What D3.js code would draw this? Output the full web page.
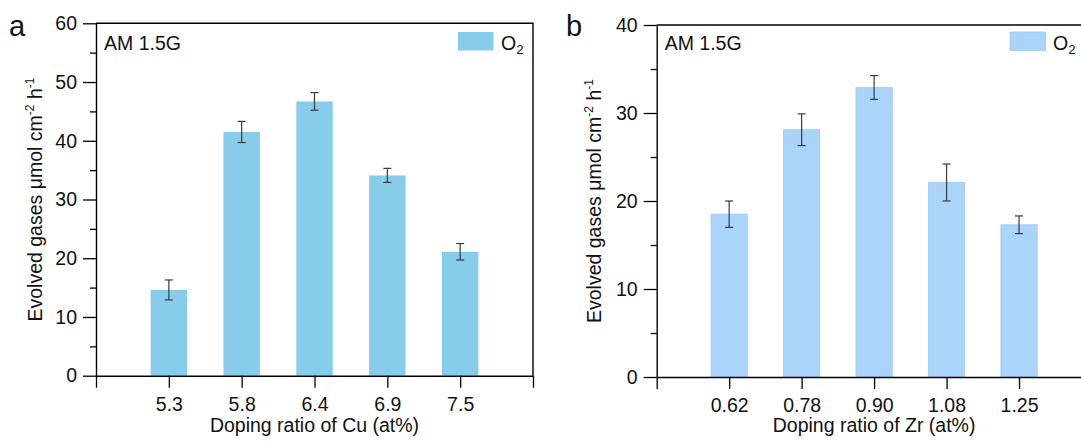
<!DOCTYPE html>
<html><head><meta charset="utf-8">
<script src="https://cdn.jsdelivr.net/npm/d3@7"></script>
<style>
html,body{margin:0;padding:0;background:#fff;}
svg{display:block;font-family:"Liberation Sans",Arial,Helvetica,sans-serif;}
</style></head>
<body>
<svg id="chart" width="1081" height="441"></svg>
<script>
// ---- data ----
const cuLabels = ["5.3", "5.8", "6.4", "6.9", "7.5"];
const cuValues = [14.6, 41.5, 46.7, 34.1, 21.1];
const cuErrors = [1.7, 1.8, 1.5, 1.2, 1.4];
const cuYTicks = [0, 10, 20, 30, 40, 50, 60];

const zrLabels = ["0.62", "0.78", "0.90", "1.08", "1.25"];
const zrValues = [18.5, 28.1, 32.9, 22.1, 17.3];
const zrErrors = [1.5, 1.8, 1.35, 2.1, 1.0];
const zrYTicks = [0, 10, 20, 30, 40];

const panels = [
  {letter: "a", labels: cuLabels, values: cuValues, errors: cuErrors, yTicks: cuYTicks,
   yMax: 60, left: 96, right: 533, top: 23.3, bottom: 375.7, color: "#87cdeb", stroke: "none",
   xTitle: "Doping ratio of Cu (at%)", letterX: 9, titleX: 42, legX: 458},
  {letter: "b", labels: zrLabels, values: zrValues, errors: zrErrors, yTicks: zrYTicks,
   yMax: 40, left: 656.7, right: 1091.5, top: 25, bottom: 377, color: "#aad4fa", stroke: "#9ccaf3",
   xTitle: "Doping ratio of Zr (at%)", letterX: 566, titleX: 601, legX: 1010}
];

const svg = d3.select("#chart");
const FS = 19.5;

panels.forEach(p => {
  const g = svg.append("g");
  const domain = ["__s", ...p.labels, "__e"];
  const x = d3.scalePoint().domain(domain).range([p.left, p.right]);
  const y = d3.scaleLinear().domain([0, p.yMax]).range([p.bottom, p.top]);
  const bw = x.step() * 0.5;

  // bars
  g.selectAll("rect.bar").data(p.labels).enter().append("rect")
    .attr("x", d => x(d) - bw / 2)
    .attr("width", bw)
    .attr("y", (d, i) => y(p.values[i]))
    .attr("height", (d, i) => y(0) - y(p.values[i]))
    .attr("fill", p.color)
    .attr("stroke", p.stroke)
    .attr("stroke-width", 0.8);

  // error bars
  const eg = g.append("g").attr("stroke", "#3a3a3a").attr("stroke-width", 1.2).attr("fill", "none");
  p.labels.forEach((d, i) => {
    const cx = x(d), hi = y(p.values[i] + p.errors[i]), lo = y(p.values[i] - p.errors[i]);
    eg.append("line").attr("x1", cx).attr("x2", cx).attr("y1", hi).attr("y2", lo);
    eg.append("line").attr("x1", cx - 4).attr("x2", cx + 4).attr("y1", hi).attr("y2", hi);
    eg.append("line").attr("x1", cx - 4).attr("x2", cx + 4).attr("y1", lo).attr("y2", lo);
  });

  // y axis minor ticks
  const minor = d3.range(5, p.yMax, 10);
  const yMinor = g.append("g").attr("transform", `translate(${p.left},0)`)
    .call(d3.axisLeft(y).tickValues(minor).tickSize(6).tickFormat(""));
  yMinor.select(".domain").remove();
  yMinor.selectAll("line").attr("stroke", "#000").attr("stroke-width", 1.3);

  // y axis
  const yAx = g.append("g").attr("transform", `translate(${p.left},0)`)
    .call(d3.axisLeft(y).tickValues(p.yTicks).tickSize(13).tickSizeOuter(0).tickPadding(6));
  yAx.select(".domain").attr("stroke", "#000").attr("stroke-width", 1.4);
  yAx.selectAll("line").attr("stroke", "#000").attr("stroke-width", 1.3);
  yAx.selectAll("text").attr("font-size", FS).attr("fill", "#111")
    .attr("font-family", "Liberation Sans, Arial, sans-serif");

  // x axis
  const xAx = g.append("g").attr("transform", `translate(0,${p.bottom})`)
    .call(d3.axisBottom(x).tickSize(12).tickSizeOuter(0).tickPadding(9)
      .tickFormat(d => d.startsWith("__") ? "" : d));
  xAx.select(".domain").attr("stroke", "#000").attr("stroke-width", 1.4);
  xAx.selectAll("line").attr("stroke", "#000").attr("stroke-width", 1.3);
  xAx.selectAll("text").attr("font-size", FS).attr("fill", "#111")
    .attr("font-family", "Liberation Sans, Arial, sans-serif");

  // frame top + right
  g.append("path")
    .attr("d", `M${p.left},${p.top}H${p.right}V${p.bottom}`)
    .attr("fill", "none").attr("stroke", "#000").attr("stroke-width", 1.4);

  // x title
  g.append("text").attr("x", (p.left + p.right) / 2).attr("y", 432)
    .attr("text-anchor", "middle").attr("font-size", FS).attr("fill", "#111")
    .text(p.xTitle);

  // y title
  const yt = g.append("text")
    .attr("transform", `translate(${p.titleX},${(p.top + p.bottom) / 2}) rotate(-90)`)
    .attr("text-anchor", "middle").attr("font-size", FS).attr("fill", "#111");
  yt.append("tspan").text("Evolved gases μmol cm");
  yt.append("tspan").attr("font-size", FS * 0.62).attr("dy", -8).text("-2");
  yt.append("tspan").attr("dy", 8).text(" h");
  yt.append("tspan").attr("font-size", FS * 0.62).attr("dy", -8).text("-1");

  // panel letter
  g.append("text").attr("x", p.letterX).attr("y", 35.5).attr("font-size", 29).attr("fill", "#111")
    .text(p.letter);

  // AM 1.5G
  g.append("text").attr("x", p.left + 8).attr("y", 50).attr("font-size", FS).attr("fill", "#111")
    .text("AM 1.5G");

  // legend
  g.append("rect").attr("x", p.legX).attr("y", 32).attr("width", 35.5).attr("height", 18.5)
    .attr("fill", p.color).attr("stroke", p.stroke).attr("stroke-width", 0.8);
  const lt = g.append("text").attr("x", p.legX + 43).attr("y", 49.5).attr("font-size", FS).attr("fill", "#111");
  lt.append("tspan").text("O");
  lt.append("tspan").attr("font-size", FS * 0.68).attr("dy", 4).text("2");
});
</script>
</body></html>
